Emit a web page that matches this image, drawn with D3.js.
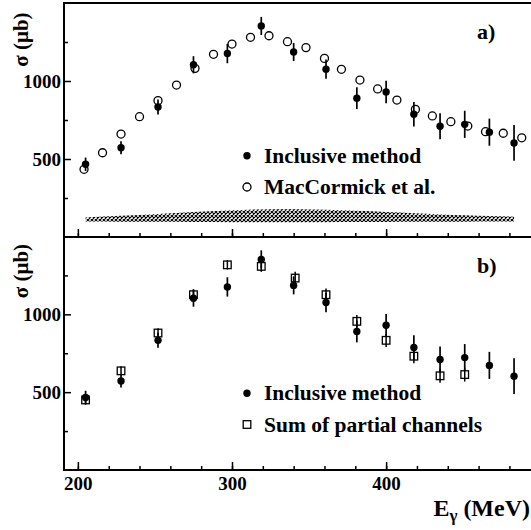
<!DOCTYPE html>
<html>
<head>
<meta charset="utf-8">
<script src="https://cdn.jsdelivr.net/npm/d3@7"></script>
<style>
  body { margin: 0; background: #fff; }
</style>
</head>
<body>
<svg id="chart" width="531" height="530"></svg>
<script>
// Inclusive method (same points in both panels)
const inclE   = [205, 228, 252, 275, 297, 319, 340, 361, 381, 400, 418, 435, 451, 467, 483];
const inclSig = [466, 572, 833, 1104, 1176, 1353, 1186, 1076, 890, 930, 787, 710, 722, 672, 603];
const inclErr = [43, 42, 48, 55, 62, 58, 58, 62, 70, 72, 78, 83, 87, 87, 115];

// MacCormick et al.
const macE   = [204, 216, 228, 240, 252, 264, 276, 288, 300, 312, 324, 336, 348, 360, 371, 383, 394.5, 407, 419, 430, 442, 453, 464.5, 476, 488];
const macSig = [434, 540, 660, 771, 874, 974, 1081, 1171, 1237, 1280, 1290, 1252, 1214, 1145, 1075, 1006, 949, 878, 818, 776, 739, 711, 675, 665, 636];

// Sum of partial channels
const sumE   = [205, 228, 252, 275, 297, 319, 341, 361, 381, 400, 418, 435, 451];
const sumSig = [450, 637, 880, 1126, 1318, 1308, 1233, 1126, 955, 833, 731, 605, 613];
const sumErr = [30, 30, 30, 35, 30, 35, 40, 40, 40, 43, 45, 45, 45];

// systematic error band (panel a)
const bandE  = [205, 228, 252, 275, 297, 319, 340, 361, 381, 400, 418, 435, 451, 467, 483];
const bandLo = [99, 98, 97, 96, 95, 95, 95, 95, 96, 96, 97, 97, 98, 99, 100];
const bandHi = [125, 136, 148, 160, 170, 177, 178, 175, 168, 160, 152, 145, 140, 135, 130];

const xMajor = [200, 300, 400];
const xMinor = d3.range(200, 494, 20);
const yMajor = [500, 1000];
const yMinor = [250, 750, 1250];

const FONT = '"Liberation Serif", "Times New Roman", Times, serif';

const svg = d3.select('#chart');

const x  = d3.scaleLinear().domain([191, 494]).range([64, 531]);
const yA = d3.scaleLinear().domain([0, 1500]).range([237, 3]);
const yB = d3.scaleLinear().domain([0, 1500]).range([470, 236.5]);

// hatch pattern for the band
const defs = svg.append('defs');
defs.append('pattern')
    .attr('id', 'hatch')
    .attr('patternUnits', 'userSpaceOnUse')
    .attr('width', 4).attr('height', 4)
  .append('path')
    .attr('d', 'M0,0L4,4M4,0L0,4')
    .attr('stroke', '#000')
    .attr('stroke-width', 1.05);

function drawTicks(y, withLabels) {
    // x ticks pointing up into the panel
    svg.append('g')
        .attr('transform', `translate(0,${y.range()[0]})`)
        .call(d3.axisBottom(x).tickValues(xMinor).tickSize(-4).tickFormat(''))
        .call(g => g.select('.domain').remove());
    const xa = svg.append('g')
        .attr('transform', `translate(0,${y.range()[0]})`)
        .call(d3.axisBottom(x).tickValues(xMajor).tickSize(-8).tickFormat(d3.format('d')))
        .call(g => g.select('.domain').remove());
    xa.selectAll('text')
        .attr('y', 20).attr('dy', 0)
        .style('font-size', '19px')
        .style('display', withLabels ? null : 'none');

    // y ticks pointing right
    svg.append('g')
        .attr('transform', 'translate(64,0)')
        .call(d3.axisLeft(y).tickValues(yMinor).tickSize(-4).tickFormat(''))
        .call(g => g.select('.domain').remove());
    const ya = svg.append('g')
        .attr('transform', 'translate(64,0)')
        .call(d3.axisLeft(y).tickValues(yMajor).tickSize(-7).tickPadding(3).tickFormat(d3.format('d')))
        .call(g => g.select('.domain').remove());
    ya.selectAll('text').style('font-size', '19px');
    svg.selectAll('.tick line').attr('stroke', '#000').attr('stroke-width', 1.5);
}

function drawInclusive(y) {
    const g = svg.append('g');
    g.selectAll('line.err')
        .data(inclE)
        .enter().append('line')
            .attr('x1', d => x(d)).attr('x2', d => x(d))
            .attr('y1', (d, i) => y(inclSig[i] - inclErr[i]))
            .attr('y2', (d, i) => y(inclSig[i] + inclErr[i]))
            .attr('stroke', '#000').attr('stroke-width', 1.7);
    g.selectAll('circle')
        .data(inclE)
        .enter().append('circle')
            .attr('cx', d => x(d))
            .attr('cy', (d, i) => y(inclSig[i]))
            .attr('r', 3.7)
            .attr('fill', '#000');
}

// ---------- panel a ----------
svg.append('path')
    .datum(bandE)
    .attr('d', d3.area()
        .x(d => x(d))
        .y0((d, i) => yA(bandLo[i]))
        .y1((d, i) => yA(bandHi[i]))
        .curve(d3.curveMonotoneX))
    .attr('fill', 'url(#hatch)');

drawTicks(yA, false);

svg.append('g').selectAll('circle')
    .data(macE)
    .enter().append('circle')
        .attr('cx', d => x(d))
        .attr('cy', (d, i) => yA(macSig[i]))
        .attr('r', 4)
        .attr('fill', 'none')
        .attr('stroke', '#000')
        .attr('stroke-width', 1.3);

drawInclusive(yA);

// ---------- panel b ----------
drawTicks(yB, true);

const sq = svg.append('g');
sq.selectAll('line')
    .data(sumE)
    .enter().append('line')
        .attr('x1', d => x(d)).attr('x2', d => x(d))
        .attr('y1', (d, i) => yB(sumSig[i] - sumErr[i]))
        .attr('y2', (d, i) => yB(sumSig[i] + sumErr[i]))
        .attr('stroke', '#000').attr('stroke-width', 1.5);
sq.selectAll('rect')
    .data(sumE)
    .enter().append('rect')
        .attr('x', d => x(d) - 3.8)
        .attr('y', (d, i) => yB(sumSig[i]) - 3.8)
        .attr('width', 7.6).attr('height', 7.6)
        .attr('fill', 'none')
        .attr('stroke', '#000')
        .attr('stroke-width', 1.3);

drawInclusive(yB);

// frame
const frame = svg.append('g').attr('stroke', '#000').attr('stroke-width', 2);
frame.append('line').attr('x1', 63).attr('x2', 531).attr('y1', 3).attr('y2', 3);
frame.append('line').attr('x1', 64).attr('x2', 64).attr('y1', 2).attr('y2', 471);
frame.append('line').attr('x1', 63).attr('x2', 531).attr('y1', 237).attr('y2', 237);
frame.append('line').attr('x1', 63).attr('x2', 531).attr('y1', 470).attr('y2', 470);

// panel labels
svg.append('text').attr('x', 477).attr('y', 39).style('font-size', '22px').text('a)');
svg.append('text').attr('x', 477).attr('y', 273).style('font-size', '22px').text('b)');

// y titles
[39.5, 271].forEach(cy => {
    svg.append('text')
        .attr('transform', `translate(28,${cy}) rotate(-90)`)
        .attr('text-anchor', 'middle')
        .style('font-size', '21px')
        .text('σ (μb)');
});

// x title
const xt = svg.append('text')
    .attr('x', 530).attr('y', 516)
    .attr('text-anchor', 'end')
    .style('font-size', '24px');
xt.append('tspan').text('E');
xt.append('tspan').attr('dy', 5).style('font-size', '17px').text('γ');
xt.append('tspan').attr('dy', -5).text(' (MeV)');

// legends
function legend(items) {
    items.forEach(it => {
        if (it.type === 'dot') {
            svg.append('circle').attr('cx', 247).attr('cy', it.y).attr('r', 3.7).attr('fill', '#000');
        } else if (it.type === 'open') {
            svg.append('circle').attr('cx', 247).attr('cy', it.y).attr('r', 4)
                .attr('fill', 'none').attr('stroke', '#000').attr('stroke-width', 1.3);
        } else {
            svg.append('rect').attr('x', 243.2).attr('y', it.y - 3.8).attr('width', 7.6).attr('height', 7.6)
                .attr('fill', 'none').attr('stroke', '#000').attr('stroke-width', 1.3);
        }
        svg.append('text').attr('x', 264).attr('y', it.y + 7).style('font-size', '21.5px').text(it.label);
    });
}
legend([
    {type: 'dot',  y: 155.7, label: 'Inclusive method'},
    {type: 'open', y: 187,   label: 'MacCormick et al.'}
]);
legend([
    {type: 'dot', y: 393.3, label: 'Inclusive method'},
    {type: 'sq',  y: 424.5, label: 'Sum of partial channels'}
]);

// serif bold everywhere, set inline so the axis defaults do not win
svg.selectAll('text')
    .style('font-family', FONT)
    .style('font-weight', 'bold')
    .attr('fill', '#000');
svg.selectAll('.tick text').attr('font-family', null);
</script>
</body>
</html>
